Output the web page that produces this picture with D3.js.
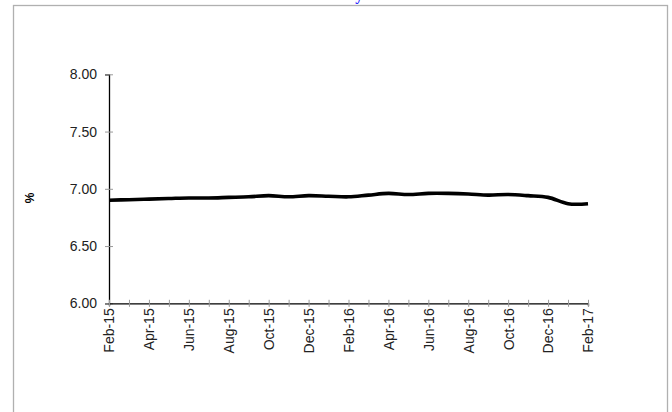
<!DOCTYPE html>
<html>
<head>
<meta charset="utf-8">
<title>10 Year Treasury Yield</title>
<script src="https://cdn.jsdelivr.net/npm/d3@7/dist/d3.min.js"></script>
<style>
  body { margin: 0; background: #fff; }
  svg { display: block; }
</style>
</head>
<body>
<svg id="chart" width="672" height="412"></svg>
<script>
// monthly values, Feb-15 .. Feb-17
var months = ["Feb-15","Mar-15","Apr-15","May-15","Jun-15","Jul-15","Aug-15","Sep-15","Oct-15","Nov-15","Dec-15","Jan-16",
              "Feb-16","Mar-16","Apr-16","May-16","Jun-16","Jul-16","Aug-16","Sep-16","Oct-16","Nov-16","Dec-16","Jan-17","Feb-17"];
var yields = [6.90,6.905,6.91,6.915,6.92,6.92,6.925,6.93,6.94,6.93,6.94,6.935,
              6.93,6.945,6.96,6.95,6.96,6.96,6.955,6.945,6.95,6.94,6.925,6.87,6.87];
var yTicks = [6.00,6.50,7.00,7.50,8.00];
var title = "Chart 2 : 10 Year Treasury Bond Rate of Return";

var svg = d3.select("#chart");

// outer frame
svg.append("rect")
  .attr("x", 13.5).attr("y", 5.5)
  .attr("width", 654).attr("height", 420)
  .attr("fill", "none").attr("stroke", "#b0b0b0").attr("stroke-width", 1.3);

// title (cut off at the top, as in the source)
svg.append("text")
  .attr("x", 186).attr("y", 0)
  .attr("textLength", 319).attr("lengthAdjust", "spacingAndGlyphs")
  .style("font-family", "'Liberation Serif', 'Times New Roman', serif")
  .style("font-weight", "bold").style("font-size", "16px")
  .attr("fill", "#2222ff")
  .text(title);

var x = d3.scaleLinear().domain([0, months.length - 1]).range([109, 588]);
var y = d3.scaleLinear().domain([6, 8]).range([303.3, 74.3]);

var sans = "'Liberation Sans', Arial, sans-serif";

// y axis
var yAxis = svg.append("g")
  .attr("transform", "translate(109,0)")
  .call(d3.axisLeft(y).tickValues(yTicks).tickFormat(d3.format(".2f")).tickSize(4).tickPadding(8));
yAxis.select(".domain").attr("stroke", "#000").attr("stroke-width", 1.3);
yAxis.selectAll(".tick line").attr("x1", 4).attr("x2", -4).attr("stroke", "#999");
yAxis.selectAll(".tick text")
  .style("font-family", sans).style("font-size", "14px").attr("fill", "#222");

// x axis
var xAxis = svg.append("g")
  .attr("transform", "translate(0,303.3)")
  .call(d3.axisBottom(x).tickValues(d3.range(months.length)).tickSize(3)
    .tickFormat(function(d) { return d % 2 === 0 ? months[d] : ""; }));
xAxis.select(".domain").attr("stroke", "#000").attr("stroke-width", 1.3);
xAxis.selectAll(".tick line").attr("y1", -3.5).attr("y2", 3.5).attr("stroke", "#999");
xAxis.selectAll(".tick text")
  .style("font-family", sans).style("font-size", "14px").attr("fill", "#222")
  .attr("text-anchor", "end")
  .attr("transform", "rotate(-90)")
  .attr("x", -5).attr("y", 0).attr("dy", "0.35em");

// y axis label
svg.append("text")
  .attr("transform", "translate(34,198) rotate(-90)")
  .attr("text-anchor", "middle")
  .style("font-family", sans)
  .style("font-weight", "bold").style("font-size", "12px")
  .text("%");

// line
var line = d3.line()
  .x(function(d, i) { return x(i); })
  .y(function(d) { return y(d); })
  .curve(d3.curveCardinal.tension(0));

svg.append("path")
  .datum(yields)
  .attr("d", line)
  .attr("fill", "none")
  .attr("stroke", "#000")
  .attr("stroke-width", 3.6)
  .attr("stroke-linejoin", "round");
</script>
</body>
</html>
